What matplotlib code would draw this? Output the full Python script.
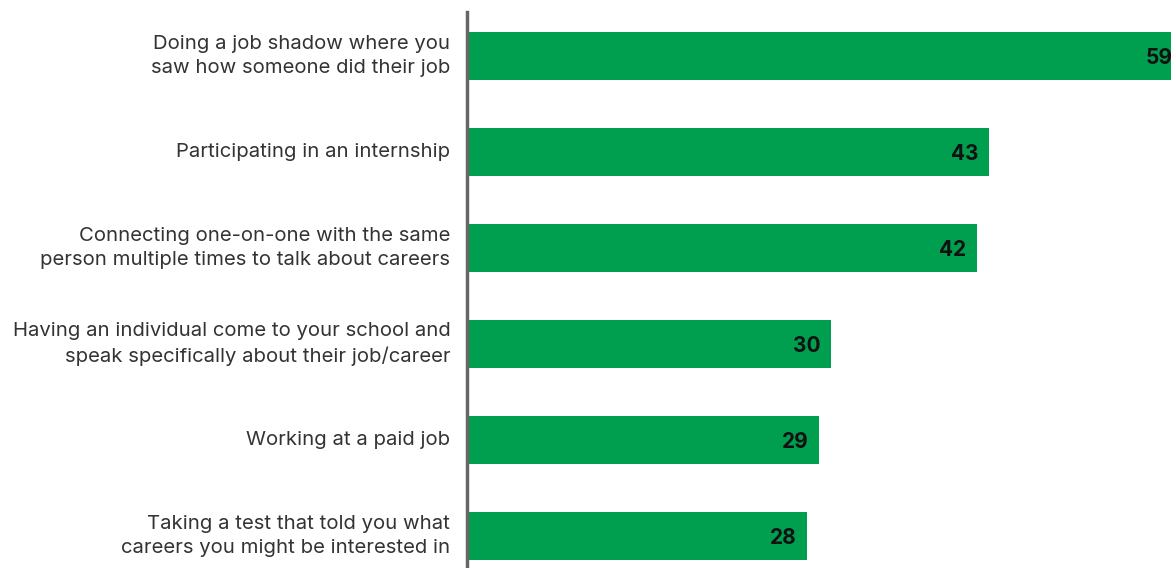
import matplotlib.pyplot as plt

# dados
categorias = [
    "Doing a job shadow where you\nsaw how someone did their job",
    "Participating in an internship",
    "Connecting one-on-one with the same\nperson multiple times to talk about careers",
    "Having an individual come to your school and\nspeak specifically about their job/career",
    "Working at a paid job",
    "Taking a test that told you what\ncareers you might be interested in",
]
valores = [59, 43, 42, 30, 29, 28]

plt.rcParams['font.family'] = ['Inter', 'DejaVu Sans']

fig = plt.figure(figsize=(11.71, 5.68), dpi=100)
ax = fig.add_axes([467 / 1171, 0, 1 - 467 / 1171, 556 / 568])

pos = list(range(len(categorias)))
ax.barh(pos, valores, height=0.5, color='#009E4F')

for p, v in zip(pos, valores):
    ax.text(v - 0.9, p + 0.02, str(v), ha='right', va='center', fontsize=15,
            fontweight='bold', color='#111111', clip_on=True)

ax.set_xlim(0, 57.95)
ax.set_ylim(5.333, -0.458)

ax.set_yticks(pos)
ax.set_yticklabels(categorias, fontsize=14.6, color='#333333', linespacing=1.42)
for t in ax.get_yticklabels():
    t.set_va('center')
ax.tick_params(axis='y', length=0, pad=12)
ax.set_xticks([])

for s in ['top', 'right', 'bottom']:
    ax.spines[s].set_visible(False)
ax.spines['left'].set_color('#666666')
ax.spines['left'].set_linewidth(2.5)
ax.spines['left'].set_zorder(5)

plt.savefig("out.png", dpi=100)
